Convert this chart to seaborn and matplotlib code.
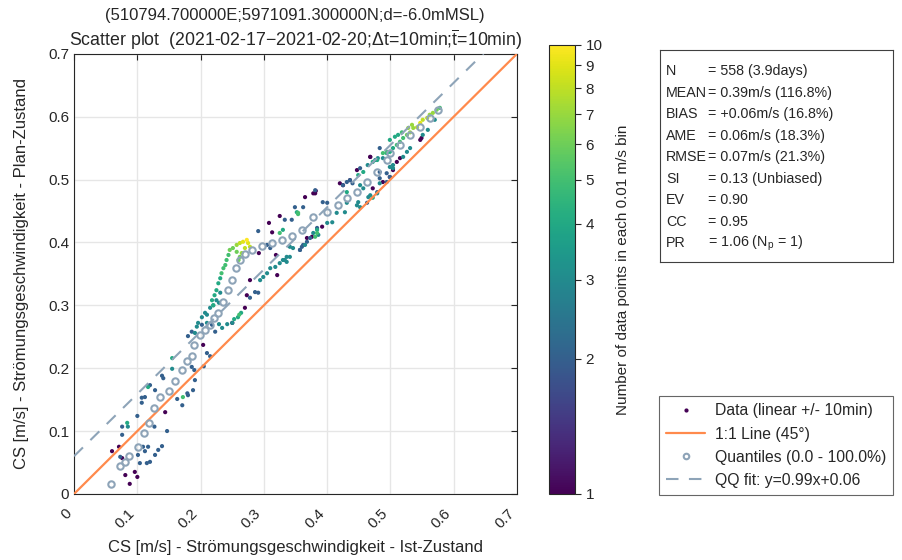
import numpy as np
import pandas as pd
import matplotlib
matplotlib.use("Agg")
import matplotlib.pyplot as plt
from matplotlib.colors import LogNorm
from matplotlib.lines import Line2D
import seaborn as sns

# quantiles (0 - 100 %)
q_x = [0.058, 0.073, 0.081, 0.087, 0.101, 0.111, 0.118, 0.126, 0.136, 0.150,
       0.160, 0.171, 0.179, 0.186, 0.190, 0.199, 0.207, 0.215, 0.221, 0.228,
       0.235, 0.243, 0.250, 0.256, 0.262, 0.270, 0.281, 0.297, 0.313, 0.329,
       0.344, 0.360, 0.378, 0.400, 0.417, 0.431, 0.447, 0.463, 0.479, 0.494,
       0.499, 0.515, 0.531, 0.547, 0.562, 0.575]
q_y = [0.016, 0.045, 0.051, 0.060, 0.075, 0.097, 0.113, 0.137, 0.154, 0.164,
       0.180, 0.197, 0.211, 0.219, 0.237, 0.253, 0.261, 0.269, 0.280, 0.288,
       0.305, 0.324, 0.340, 0.359, 0.372, 0.382, 0.388, 0.394, 0.399, 0.404,
       0.410, 0.420, 0.440, 0.448, 0.459, 0.471, 0.480, 0.496, 0.512, 0.531,
       0.542, 0.555, 0.571, 0.583, 0.598, 0.610]

# scatter data: x, y, number of points in bin
d_x = [0.060, 0.071, 0.076, 0.073, 0.081, 0.088, 0.096, 0.100, 0.101, 0.104,
       0.109, 0.112, 0.117, 0.115, 0.120, 0.128, 0.127, 0.133, 0.139, 0.147,
       0.144, 0.076, 0.076, 0.085, 0.084, 0.100, 0.107, 0.112, 0.107, 0.117,
       0.120, 0.128, 0.139, 0.141, 0.155, 0.155, 0.163, 0.171, 0.172, 0.179,
       0.180, 0.186, 0.188, 0.191, 0.190, 0.205, 0.210, 0.215, 0.204, 0.180,
       0.186, 0.191, 0.194, 0.196, 0.202, 0.210, 0.218, 0.223, 0.229, 0.234,
       0.242, 0.250, 0.253, 0.261, 0.229, 0.220,
       0.202, 0.207, 0.210, 0.215, 0.220, 0.218, 0.222, 0.225, 0.228, 0.231,
       0.233, 0.236, 0.239, 0.241, 0.244, 0.246, 0.251, 0.257, 0.257, 0.262,
       0.267, 0.273, 0.275, 0.278, 0.270, 0.265, 0.262, 0.260, 0.231, 0.225,
       0.308, 0.313, 0.291, 0.292, 0.325, 0.333, 0.344, 0.352, 0.354, 0.349,
       0.362, 0.365, 0.381, 0.382, 0.325, 0.330, 0.319, 0.321, 0.305, 0.310,
       0.336, 0.330, 0.325, 0.318, 0.310, 0.305, 0.299, 0.294, 0.291, 0.286,
       0.278, 0.278, 0.273, 0.270, 0.264, 0.259, 0.250,
       0.341, 0.346, 0.357, 0.360, 0.365, 0.368, 0.373, 0.378, 0.384, 0.386,
       0.336,
       0.378, 0.381, 0.393, 0.400, 0.420, 0.425, 0.431, 0.436, 0.447, 0.449,
       0.457, 0.464, 0.468, 0.476, 0.480, 0.488, 0.494, 0.354,
       0.431, 0.447, 0.463, 0.465, 0.479, 0.483, 0.494, 0.499, 0.504,
       0.384, 0.392, 0.400, 0.408, 0.415, 0.428, 0.452, 0.449, 0.384, 0.381,
       0.362, 0.357, 0.341, 0.333, 0.368, 0.376,
       0.578, 0.573, 0.567, 0.562, 0.558, 0.551, 0.547, 0.542, 0.536, 0.531,
       0.526, 0.520, 0.515, 0.510, 0.504, 0.499, 0.494, 0.488, 0.528, 0.534,
       0.551, 0.559, 0.570, 0.549, 0.547, 0.531, 0.526, 0.520, 0.515, 0.510,
       0.504, 0.499, 0.494, 0.483, 0.488, 0.499, 0.504, 0.472, 0.479, 0.452,
       0.457, 0.468, 0.472, 0.483,
       0.468, 0.483, 0.472, 0.479, 0.452, 0.436, 0.440, 0.425, 0.431, 0.512,
       0.507, 0.499, 0.518]
d_y = [0.068, 0.075, 0.057, 0.059, 0.030, 0.016, 0.035, 0.027, 0.062, 0.049,
       0.075, 0.068, 0.075, 0.049, 0.051, 0.062, 0.107, 0.070, 0.076, 0.100,
       0.130, 0.094, 0.107, 0.107, 0.113, 0.124, 0.153, 0.154, 0.145, 0.170,
       0.173, 0.165, 0.188, 0.184, 0.199, 0.216, 0.151, 0.141, 0.154, 0.160,
       0.157, 0.202, 0.165, 0.181, 0.197, 0.203, 0.224, 0.219, 0.237, 0.251,
       0.258, 0.256, 0.266, 0.272, 0.269, 0.285, 0.269, 0.258, 0.270, 0.264,
       0.270, 0.272, 0.278, 0.285, 0.304, 0.300,
       0.281, 0.288, 0.272, 0.296, 0.300, 0.308, 0.316, 0.324, 0.335, 0.343,
       0.351, 0.359, 0.364, 0.372, 0.380, 0.388, 0.391, 0.385, 0.396, 0.399,
       0.401, 0.404, 0.399, 0.393, 0.391, 0.383, 0.377, 0.372, 0.320, 0.308,
       0.431, 0.416, 0.418, 0.383, 0.442, 0.436, 0.436, 0.448, 0.445, 0.456,
       0.456, 0.472, 0.478, 0.482, 0.415, 0.420, 0.380, 0.348, 0.396, 0.391,
       0.369, 0.372, 0.367, 0.361, 0.359, 0.351, 0.345, 0.340, 0.320, 0.321,
       0.340, 0.312, 0.316, 0.296, 0.288, 0.281, 0.272,
       0.393, 0.391, 0.388, 0.393, 0.396, 0.401, 0.407, 0.415, 0.420, 0.412,
       0.377,
       0.478, 0.483, 0.464, 0.463, 0.494, 0.491, 0.496, 0.499, 0.515, 0.507,
       0.512, 0.523, 0.536, 0.531, 0.534, 0.542, 0.544, 0.447,
       0.463, 0.459, 0.463, 0.472, 0.478, 0.494, 0.496, 0.504, 0.518,
       0.423, 0.425, 0.431, 0.432, 0.447, 0.448, 0.456, 0.464, 0.415, 0.409,
       0.396, 0.388, 0.377, 0.372, 0.407, 0.409,
       0.614, 0.611, 0.606, 0.603, 0.598, 0.595, 0.590, 0.583, 0.582, 0.575,
       0.571, 0.566, 0.560, 0.555, 0.550, 0.544, 0.542, 0.534, 0.582, 0.587,
       0.571, 0.579, 0.595, 0.566, 0.563, 0.550, 0.544, 0.536, 0.534, 0.528,
       0.523, 0.520, 0.510, 0.502, 0.496, 0.504, 0.515, 0.486, 0.480, 0.491,
       0.486, 0.475, 0.471, 0.512,
       0.536, 0.550, 0.528, 0.531, 0.518, 0.499, 0.494, 0.491, 0.480, 0.571,
       0.568, 0.563, 0.575]
d_n = [1, 1, 1, 2, 1, 1, 1, 1, 2, 2,
       2, 2, 2, 2, 2, 2, 2, 2, 2, 2,
       1, 2, 2, 3, 4, 2, 2, 2, 2, 4,
       2, 2, 2, 2, 3, 4, 2, 2, 5, 2,
       2, 2, 2, 2, 2, 2, 2, 2, 1, 2,
       2, 3, 3, 3, 2, 3, 2, 2, 3, 3,
       3, 3, 4, 5, 3, 4,
       3, 3, 3, 3, 4, 4, 4, 4, 4, 4,
       5, 5, 5, 5, 5, 6, 6, 6, 7, 8,
       9, 10, 9, 8, 8, 7, 6, 6, 3, 3,
       1, 1, 2, 1, 1, 2, 2, 4, 5, 2,
       2, 1, 1, 1, 5, 4, 1, 1, 2, 2,
       3, 3, 3, 3, 3, 3, 3, 3, 2, 2,
       1, 2, 1, 1, 4, 4, 1,
       3, 3, 2, 2, 3, 2, 2, 3, 4, 3,
       3,
       1, 2, 2, 2, 1, 2, 2, 2, 1, 4,
       4, 3, 1, 3, 3, 5, 5, 5,
       3, 3, 2, 3, 3, 3, 2, 2, 3,
       2, 1, 3, 3, 3, 3, 3, 3, 5, 5,
       2, 2, 3, 3, 1, 1,
       5, 6, 7, 7, 8, 8, 9, 8, 7, 7,
       6, 5, 5, 5, 4, 4, 4, 3, 7, 7,
       3, 3, 3, 1, 1, 3, 3, 3, 1, 1,
       3, 3, 2, 2, 1, 1, 1, 1, 2, 3,
       3, 3, 4, 2,
       1, 2, 4, 4, 2, 1, 2, 1, 4, 4,
       4, 4, 5]

stat_names = ["N", "MEAN", "BIAS", "AME", "RMSE", "SI", "EV", "CC", "PR"]
stat_values = ["= 558 (3.9days)", "= 0.39m/s (116.8%)", "= +0.06m/s (16.8%)",
               "= 0.06m/s (18.3%)", "= 0.07m/s (21.3%)", "= 0.13 (Unbiased)",
               "= 0.90", "= 0.95", r"= 1.06 (N$_\mathregular{p}$ = 1)"]
fit_a, fit_b = 0.99, 0.06
ticks = [0, 0.1, 0.2, 0.3, 0.4, 0.5, 0.6, 0.7]
tick_labels = ["0", "0.1", "0.2", "0.3", "0.4", "0.5", "0.6", "0.7"]
cb_ticks = [1, 2, 3, 4, 5, 6, 7, 8, 9, 10]

sns.set_style("white")
plt.rcParams['font.family'] = ['Liberation Sans', 'DejaVu Sans']
plt.rcParams['mathtext.fontset'] = 'custom'
plt.rcParams['mathtext.rm'] = 'Liberation Sans'
plt.rcParams['mathtext.it'] = 'Liberation Sans:italic'

txt = "#262626"
fig = plt.figure(figsize=(9.03, 5.6), dpi=100)
ax = fig.add_axes([0.082, 0.118, 0.4906, 0.786])
cax = fig.add_axes([0.608, 0.118, 0.0288, 0.802])

orange = "#ff8a4c"
qq_col = "#8ea4b8"
norm = LogNorm(vmin=1, vmax=10)

df = pd.DataFrame({"x": d_x, "y": d_y, "n": d_n}).sort_values("n")
sns.scatterplot(data=df, x="x", y="y", hue="n", palette="viridis", hue_norm=norm,
                s=9, linewidth=0, legend=False, ax=ax, zorder=3)

line = np.array([0, 0.7])
ax.plot(line, line, color=orange, lw=1.6, zorder=4)
ax.plot(line, fit_a * line + fit_b, color=qq_col, lw=1.5, ls=(0, (6, 5)), zorder=4)
ax.plot(q_x, q_y, ls="none", marker="o", ms=4.6, mfc="none", mec=qq_col, mew=1.5, zorder=5)

ax.set_xlim(0, 0.7)
ax.set_ylim(0, 0.7)
ax.set_xticks(ticks)
ax.set_yticks(ticks)
ax.set_xticklabels(tick_labels, rotation=45, ha="right", va="top", fontsize=11, color=txt)
ax.set_yticklabels(tick_labels, fontsize=11, color=txt)
ax.tick_params(direction="in", top=True, right=True, length=4, color=txt)
ax.tick_params(axis="x", pad=9)
ax.grid(True, color="#e6e6e6", lw=1)
ax.set_axisbelow(True)
for sp in ax.spines.values():
    sp.set_color(txt)
    sp.set_linewidth(0.8)
ax.set_xlabel("CS [m/s] - Strömungsgeschwindigkeit - Ist-Zustand", fontsize=12, color=txt, labelpad=6)
ax.set_ylabel("CS [m/s] - Strömungsgeschwindigkeit - Plan-Zustand", fontsize=12, color=txt, labelpad=14)

fig.text(0.327, 0.973, "(510794.700000E;5971091.300000N;d=-6.0mMSL)",
         fontsize=12, color=txt, ha="center", va="center")
fig.text(0.327, 0.929,
         r"Scatter plot  (2021-02-17−2021-02-20;Δt=10min;$\overline{\mathregular{t}}$=10min)",
         fontsize=12.8, color=txt, ha="center", va="center")

sm = plt.cm.ScalarMappable(norm=norm, cmap="viridis")
cb = fig.colorbar(sm, cax=cax)
cb.set_ticks(cb_ticks)
cb.set_ticklabels([str(t) for t in cb_ticks])
cb.minorticks_off()
cax.tick_params(labelsize=11, length=4, colors=txt)
cb.outline.set_edgecolor(txt)
cb.set_label("Number of data points in each 0.01 m/s bin", fontsize=11, color=txt, labelpad=10)

# stats box
sax = fig.add_axes([0.731, 0.532, 0.258, 0.379])
sax.set_xticks([])
sax.set_yticks([])
for sp in sax.spines.values():
    sp.set_color("#404040")
    sp.set_linewidth(0.8)
for i, (nm, val) in enumerate(zip(stat_names, stat_values)):
    yy = 0.9 - i * 0.1015
    sax.text(0.025, yy, nm, fontsize=10.3, va="center", transform=sax.transAxes)
    sax.text(0.205, yy, val, fontsize=10.3, va="center", transform=sax.transAxes)

handles = [
    Line2D([], [], ls="none", marker="o", ms=2, color="#440154"),
    Line2D([], [], color=orange, lw=1.6),
    Line2D([], [], ls="none", marker="o", ms=4, mfc="none", mec=qq_col, mew=1.5),
    Line2D([], [], color=qq_col, lw=1.5, ls=(0, (6, 5))),
]
labels = ["Data (linear +/- 10min)", "1:1 Line (45°)", "Quantiles (0.0 - 100.0%)",
          "QQ fit: y=0.99x+0.06"]
leg = fig.legend(handles, labels, loc="lower right", bbox_to_anchor=(0.989, 0.116),
                 fontsize=11.3, frameon=True, fancybox=False, handlelength=2.5,
                 borderpad=0.45, labelspacing=0.52, handletextpad=0.6, borderaxespad=0)
leg.get_frame().set_edgecolor("#404040")
leg.get_frame().set_linewidth(0.8)

fig.savefig("out.png", dpi=100)
